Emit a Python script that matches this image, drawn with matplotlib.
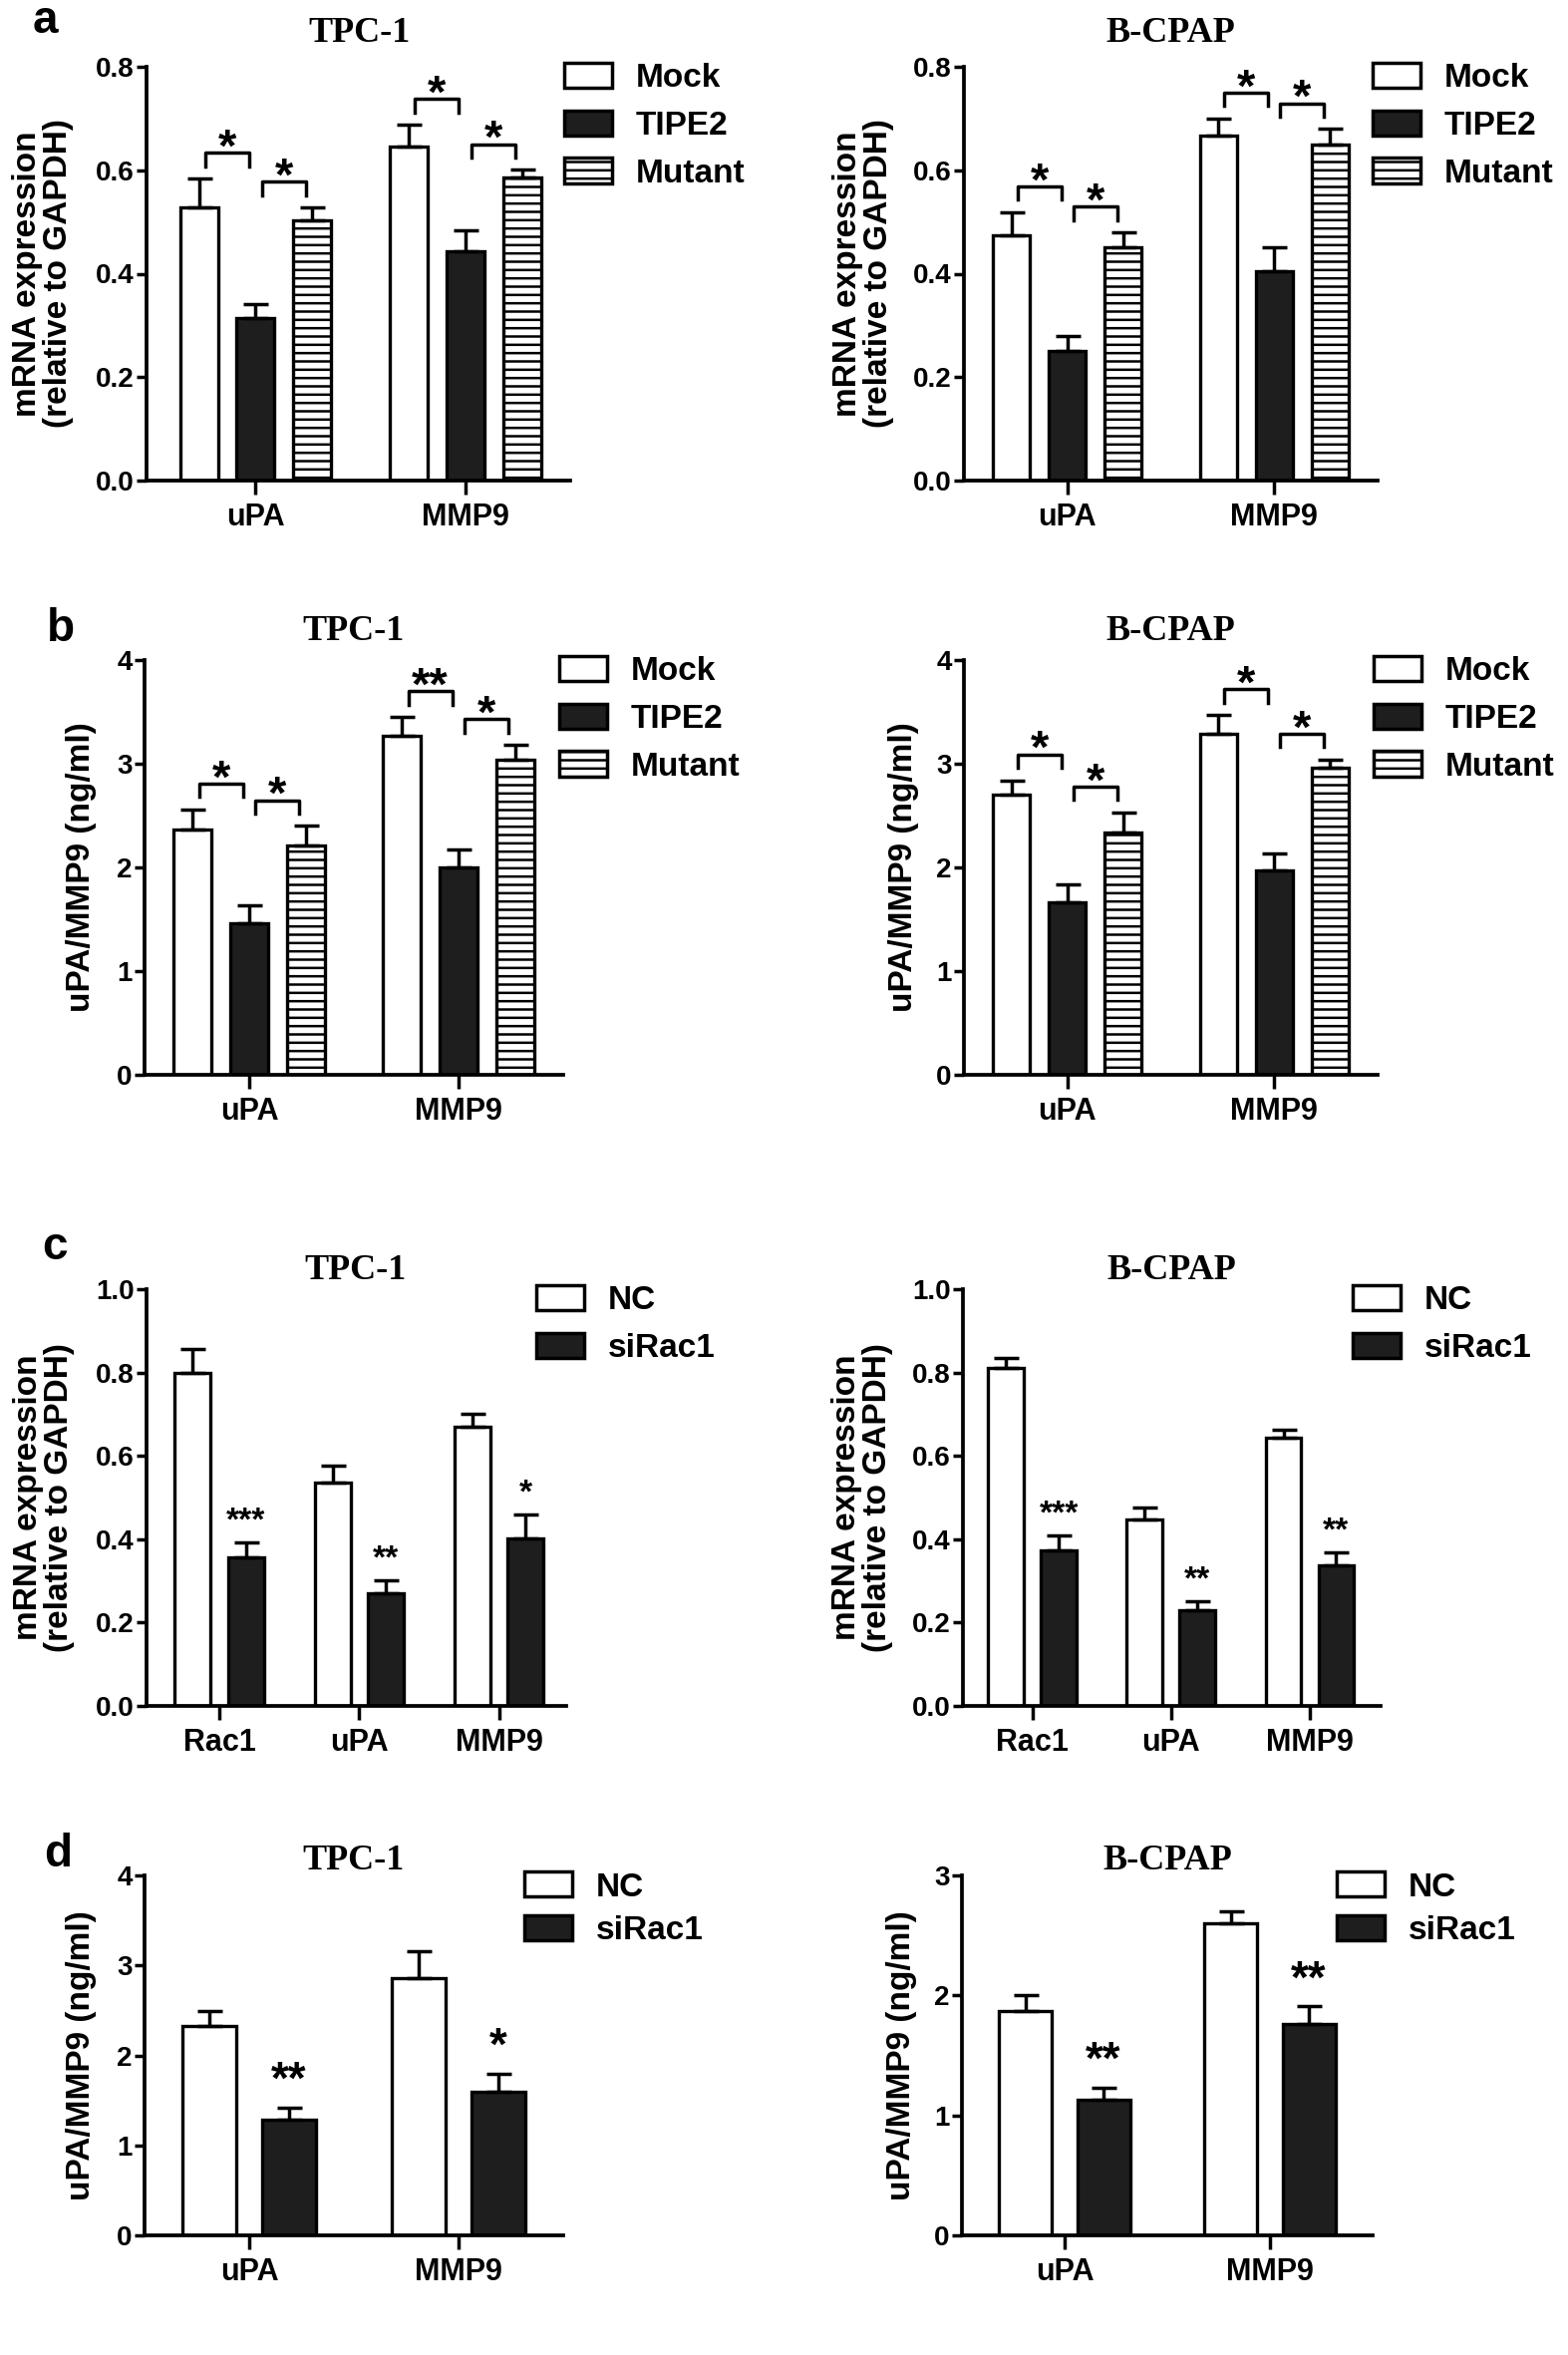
import numpy as np
import matplotlib
matplotlib.use('Agg')
import matplotlib.pyplot as plt
from matplotlib.patches import Patch
from matplotlib.ticker import FormatStrFormatter, MultipleLocator

plt.rcParams['font.family'] = ['Liberation Sans', 'DejaVu Sans']
plt.rcParams['font.weight'] = 'bold'
plt.rcParams['hatch.linewidth'] = 1.8

# categories
genes_ab = ['uPA', 'MMP9']
genes_c = ['Rac1', 'uPA', 'MMP9']
genes_d = ['uPA', 'MMP9']
groups_ab = ['Mock', 'TIPE2', 'Mutant']
groups_cd = ['NC', 'siRac1']

# a: mRNA expression, rows = Mock / TIPE2 / Mutant, cols = uPA / MMP9
a_tpc1 = [[0.528, 0.646], [0.314, 0.443], [0.503, 0.586]]
a_tpc1_sem = [[0.056, 0.042], [0.027, 0.041], [0.025, 0.015]]
a_bcpap = [[0.475, 0.667], [0.250, 0.404], [0.452, 0.650]]
a_bcpap_sem = [[0.044, 0.033], [0.029, 0.048], [0.028, 0.030]]
a_tpc1_sig = [['*', '*'], ['*', '*']]
a_bcpap_sig = [['*', '*'], ['*', '*']]

# b: secreted uPA / MMP9 (ng/ml)
b_tpc1 = [[2.37, 3.27], [1.46, 2.00], [2.21, 3.04]]
b_tpc1_sem = [[0.19, 0.18], [0.17, 0.17], [0.19, 0.14]]
b_bcpap = [[2.70, 3.29], [1.66, 1.97], [2.34, 2.96]]
b_bcpap_sem = [[0.14, 0.18], [0.18, 0.16], [0.19, 0.08]]
b_tpc1_sig = [['*', '*'], ['**', '*']]
b_bcpap_sig = [['*', '*'], ['*', '*']]

# c: mRNA expression, rows = NC / siRac1, cols = Rac1 / uPA / MMP9
c_tpc1 = [[0.800, 0.535, 0.669], [0.357, 0.271, 0.402]]
c_tpc1_sem = [[0.057, 0.041, 0.031], [0.036, 0.031, 0.058]]
c_bcpap = [[0.812, 0.448, 0.643], [0.374, 0.229, 0.338]]
c_bcpap_sem = [[0.024, 0.028, 0.019], [0.036, 0.023, 0.031]]
c_tpc1_sig = ['***', '**', '*']
c_bcpap_sig = ['***', '**', '**']

# d: secreted uPA / MMP9 (ng/ml)
d_tpc1 = [[2.33, 2.86], [1.29, 1.60]]
d_tpc1_sem = [[0.16, 0.30], [0.13, 0.20]]
d_bcpap = [[1.87, 2.60], [1.13, 1.76]]
d_bcpap_sem = [[0.13, 0.10], [0.10, 0.15]]
d_tpc1_sig = ['**', '*']
d_bcpap_sig = ['**', '**']

W, H = 1573, 2362
fig = plt.figure(figsize=(W / 100, H / 100), dpi=100)

style3 = [dict(color='white', hatch=None), dict(color='#1e1e1e', hatch=None),
          dict(color='white', hatch='--')]
style2 = [dict(color='white', hatch=None), dict(color='#1e1e1e', hatch=None)]

mrna_label = 'mRNA expression\n(relative to GAPDH)'
ng_label = 'uPA/MMP9 (ng/ml)'


def make_axes(left, top, right, bottom):
    return fig.add_axes([left / W, 1 - bottom / H, (right - left) / W, (bottom - top) / H])


def draw(ax, genes, groups, means, sems, styles, width, offsets, ymax, ystep, fmt,
         ylabel, label_x, xlim, leg_x, leg_space):
    x = np.arange(len(genes))
    for i, grp in enumerate(groups):
        ax.bar(x + offsets[i], means[i], width, color=styles[i]['color'], edgecolor='black',
               linewidth=2.4, hatch=styles[i]['hatch'], zorder=2)
        ax.errorbar(x + offsets[i], means[i], yerr=[np.zeros(len(genes)), sems[i]], fmt='none',
                    ecolor='black', elinewidth=2.5, capsize=9, capthick=2.5, zorder=3)
    ax.set_xlim(*xlim)
    ax.set_ylim(0, ymax)
    ax.yaxis.set_major_locator(MultipleLocator(ystep))
    ax.yaxis.set_major_formatter(FormatStrFormatter(fmt))
    ax.set_xticks(x)
    ax.set_xticklabels(genes, fontsize=22, fontweight='bold')
    for s in ['top', 'right']:
        ax.spines[s].set_visible(False)
    for s in ['left', 'bottom']:
        ax.spines[s].set_linewidth(2.7)
    ax.tick_params(axis='y', length=7, width=2.5, labelsize=20, pad=2)
    ax.tick_params(axis='x', length=10, width=2.5, pad=6)
    ax.set_ylabel(ylabel, fontsize=24, fontweight='bold', linespacing=1.0)
    ax.yaxis.set_label_coords(label_x, 0.5)
    handles = [Patch(facecolor=st['color'], edgecolor='black', linewidth=2.5, hatch=st['hatch'])
               for st in styles]
    ax.legend(handles, groups, loc='upper left', bbox_to_anchor=(leg_x, 1.01), frameon=False,
              prop={'size': 24, 'weight': 'bold'}, handlelength=1.44, handleheight=0.78,
              handletextpad=0.72, labelspacing=leg_space, borderpad=0, borderaxespad=0)
    return x


def brackets(ax, x, means, sems, sig, ymax, offsets):
    for g in range(len(x)):
        for k in range(2):
            lo = means[k][g] + sems[k][g]
            hi = means[k + 1][g] + sems[k + 1][g]
            top = max(lo, hi) + 0.062 * ymax
            leg = 0.032 * ymax
            xc = x[g] + (offsets[k] + offsets[k + 1]) / 2
            hw = 0.105
            ax.plot([xc - hw, xc - hw, xc + hw, xc + hw], [top - leg, top, top, top - leg],
                    color='black', lw=2.5, clip_on=False, zorder=4)
            ax.annotate(sig[g][k], xy=(xc, top), xytext=(0, -6), textcoords='offset points',
                        ha='center', va='baseline', fontsize=34, fontweight='bold',
                        annotation_clip=False)


def stars(ax, x, means, sems, sig, offset, size, lift):
    for g in range(len(x)):
        y = means[1][g] + sems[1][g]
        ax.annotate(sig[g], xy=(x[g] + offset, y), xytext=(0, lift), textcoords='offset points',
                    ha='center', va='baseline', fontsize=size, fontweight='bold',
                    annotation_clip=False)


off3 = [-0.27, 0.0, 0.27]
off2 = [-0.19, 0.19]

# row a
ax = make_axes(147, 67, 572, 482)
x = draw(ax, genes_ab, groups_ab, a_tpc1, a_tpc1_sem, style3, 0.18, off3, 0.8, 0.2, '%.1f',
         mrna_label, -0.171, (-0.52, 1.5), 0.986, 0.5)
brackets(ax, x, a_tpc1, a_tpc1_sem, a_tpc1_sig, 0.8, off3)
ax = make_axes(967, 67, 1382, 482)
x = draw(ax, genes_ab, groups_ab, a_bcpap, a_bcpap_sem, style3, 0.18, off3, 0.8, 0.2, '%.1f',
         mrna_label, -0.168, (-0.5, 1.5), 0.988, 0.5)
brackets(ax, x, a_bcpap, a_bcpap_sem, a_bcpap_sig, 0.8, off3)

# row b
ax = make_axes(145, 662, 565, 1078)
x = draw(ax, genes_ab, groups_ab, b_tpc1, b_tpc1_sem, style3, 0.18, off3, 4, 1, '%d',
         ng_label, -0.114, (-0.5, 1.5), 0.99, 0.5)
brackets(ax, x, b_tpc1, b_tpc1_sem, b_tpc1_sig, 4, off3)
ax = make_axes(967, 662, 1382, 1078)
x = draw(ax, genes_ab, groups_ab, b_bcpap, b_bcpap_sem, style3, 0.18, off3, 4, 1, '%d',
         ng_label, -0.108, (-0.5, 1.5), 0.99, 0.5)
brackets(ax, x, b_bcpap, b_bcpap_sem, b_bcpap_sig, 4, off3)

# row c
ax = make_axes(147, 1293, 568, 1711)
x = draw(ax, genes_c, groups_cd, c_tpc1, c_tpc1_sem, style2, 0.257, off2, 1.0, 0.2, '%.1f',
         mrna_label, -0.171, (-0.52, 2.48), 0.928, 0.5)
stars(ax, x, c_tpc1, c_tpc1_sem, c_tpc1_sig, off2[1], 24, 9)
ax = make_axes(966, 1293, 1385, 1711)
x = draw(ax, genes_c, groups_cd, c_bcpap, c_bcpap_sem, style2, 0.257, off2, 1.0, 0.2, '%.1f',
         mrna_label, -0.166, (-0.5, 2.51), 0.933, 0.5)
stars(ax, x, c_bcpap, c_bcpap_sem, c_bcpap_sig, off2[1], 24, 9)

# row d
ax = make_axes(145, 1881, 565, 2242)
x = draw(ax, genes_d, groups_cd, d_tpc1, d_tpc1_sem, style2, 0.257, off2, 4, 1, '%d',
         ng_label, -0.114, (-0.5, 1.5), 0.907, 0.38)
stars(ax, x, d_tpc1, d_tpc1_sem, d_tpc1_sig, off2[1], 33, 10)
ax = make_axes(965, 1881, 1377, 2242)
x = draw(ax, genes_d, groups_cd, d_bcpap, d_bcpap_sem, style2, 0.257, off2, 3, 1, '%d',
         ng_label, -0.11, (-0.5, 1.5), 0.913, 0.38)
stars(ax, x, d_bcpap, d_bcpap_sem, d_bcpap_sig, off2[1], 33, 10)

# titles and panel letters
titles = [('TPC-1', 360, 42), ('B-CPAP', 1174, 42), ('TPC-1', 355, 642), ('B-CPAP', 1174, 642),
          ('TPC-1', 357, 1283), ('B-CPAP', 1175, 1283), ('TPC-1', 355, 1875), ('B-CPAP', 1171, 1875)]
for txt, tx, ty in titles:
    fig.text(tx / W, 1 - ty / H, txt, ha='center', va='baseline', fontsize=26,
             fontweight='bold', family='Liberation Serif')

letters = [('a', 33, 33), ('b', 47, 643), ('c', 42, 1263), ('d', 44, 1872)]
for txt, tx, ty in letters:
    fig.text(tx / W, 1 - ty / H, txt, ha='left', va='baseline', fontsize=33, fontweight='bold')

fig.savefig('out.png', dpi=100)
